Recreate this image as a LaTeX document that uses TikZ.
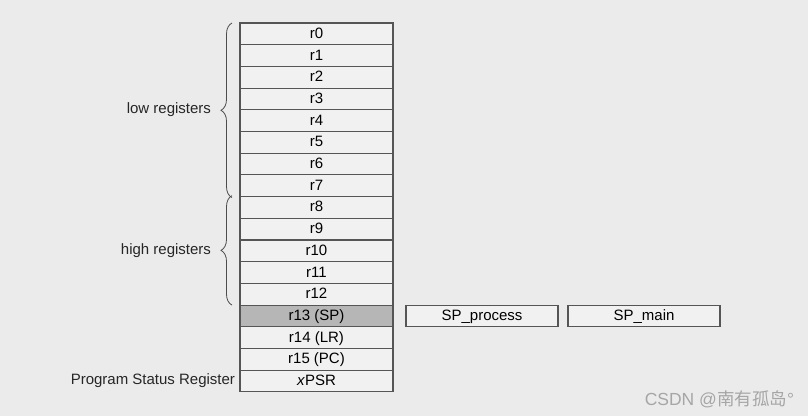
\documentclass[tikz,border=0pt]{standalone}
\usepackage{fontspec}
\setmainfont{Liberation Sans}
\newfontfamily\cjkfont{Noto Sans CJK SC}
\usetikzlibrary{positioning,decorations.pathreplacing}

\definecolor{bgcol}{RGB}{235,235,235}
\definecolor{cellcol}{RGB}{241,241,241}
\definecolor{linecol}{RGB}{85,85,85}
\definecolor{spcol}{RGB}{182,182,182}

\begin{document}
\begin{tikzpicture}[x=1pt, y=-1pt, inner sep=0, outer sep=0,
    reg/.style={rectangle, draw=linecol, fill=cellcol, line width=1.1pt,
      minimum width=153pt, minimum height=21.7pt,
      text height=11pt, text depth=2pt,
      font=\fontsize{15}{17}\selectfont},
    lbl/.style={font=\fontsize{15}{17}\selectfont, text=black!85},
    brace/.style={draw=black!70, line width=0.8pt,
      decorate, decoration={brace, amplitude=11pt}}]
  \fill[bgcol] (0,0) rectangle (808,416);

  % register column
  \node[reg] (r0) at (316.5,33.85) {r0};
  \node[reg, below=0pt of r0] (r1) {r1};
  \node[reg, below=0pt of r1] (r2) {r2};
  \node[reg, below=0pt of r2] (r3) {r3};
  \node[reg, below=0pt of r3] (r4) {r4};
  \node[reg, below=0pt of r4] (r5) {r5};
  \node[reg, below=0pt of r5] (r6) {r6};
  \node[reg, below=0pt of r6] (r7) {r7};
  \node[reg, below=0pt of r7] (r8) {r8};
  \node[reg, below=0pt of r8] (r9) {r9};
  \node[reg, below=0pt of r9] (r10) {r10};
  \node[reg, below=0pt of r10] (r11) {r11};
  \node[reg, below=0pt of r11] (r12) {r12};
  \node[reg, below=0pt of r12, fill=spcol] (r13) {r13 (SP)};
  \node[reg, below=0pt of r13] (r14) {r14 (LR)};
  \node[reg, below=0pt of r14] (r15) {r15 (PC)};
  \node[reg, below=0pt of r15] (xpsr) {\textit{x}PSR};

  % banked stack pointers
  \node[reg, minimum width=152pt, right=13pt of r13] (spproc) {SP\_process};
  \node[reg, minimum width=152pt, right=10pt of spproc] (spmain) {SP\_main};

  % braces
  \draw[brace] ([xshift=-8pt, yshift=-1pt]r7.south west) -- ([xshift=-8pt]r0.north west);
  \draw[brace] ([xshift=-8pt]r12.south west) -- ([xshift=-8pt, yshift=1pt]r8.north west);
  \path (r0.north west) -- (r7.south west) coordinate[midway] (lowmid);
  \path (r8.north west) -- (r12.south west) coordinate[midway] (highmid);
  \node[lbl, anchor=east] (lowlbl) at ([xshift=-29pt]lowmid) {low registers};
  \node[lbl, anchor=east] (highlbl) at ([xshift=-29pt]highmid) {high registers};
  \node[lbl, anchor=east] (psrlbl) at ([xshift=-5pt]xpsr.west) {Program Status Register};

  \node[anchor=east, text=black!35, font=\fontsize{17.5}{20}\selectfont] (mark)
    at (794,399) {CSDN @{\cjkfont 南有孤岛}°};
\end{tikzpicture}
\end{document}
